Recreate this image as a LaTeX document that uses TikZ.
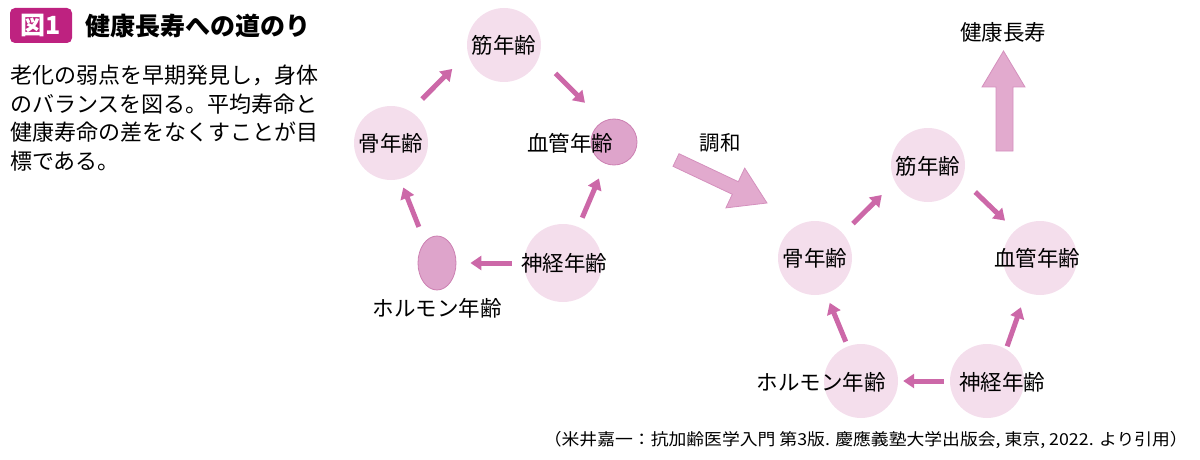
\documentclass[tikz,border=0pt]{standalone}
\usepackage{fontspec}
\setmainfont{Noto Sans CJK JP}
\usetikzlibrary{arrows.meta,shapes.geometric}

\definecolor{circpink}{RGB}{244,222,236}
\definecolor{deeppink}{RGB}{222,164,203}
\definecolor{deepedge}{RGB}{204,128,178}
\definecolor{arrowpink}{RGB}{204,104,168}
\definecolor{bigpink}{RGB}{226,170,206}
\definecolor{bigedge}{RGB}{212,144,189}
\definecolor{figmagenta}{RGB}{190,34,128}

\tikzset{
  agecircle/.style={circle, fill=circpink, minimum size=74pt, inner sep=0pt},
  agedot/.style={circle, fill=deeppink, draw=deepedge, line width=0.8pt, minimum size=46pt, inner sep=0pt},
  agelabel/.style={inner sep=0pt, font=\fontsize{21.5}{24}\selectfont},
  cyclearrow/.style={line width=5pt, arrowpink, -{Triangle[length=11pt,width=14pt]}},
  bigarrow/.style={fill=bigpink, draw=bigedge, line width=0.8pt},
  figtag/.style={fill=figmagenta, rounded corners=5pt, minimum width=62pt, minimum height=35pt,
    inner sep=0pt, text=white, font=\fontsize{25}{28}\bfseries},
  bodytext/.style={inner sep=0pt, font=\fontsize{22}{28}\selectfont},
}

\begin{document}
\begin{tikzpicture}[x=1pt, y=-1pt]

\useasboundingbox (0,0) rectangle (1200,460);

% heading and text
\node[figtag] (tag) at (41,25.5) {図1};
\node[inner sep=0pt, anchor=west, font=\fontsize{25}{28}\bfseries] (title) at (85,26.5) {健康長寿への道のり};

\foreach \t [count=\i] in {老化の弱点を早期発見し，身体, のバランスを図る。平均寿命と,
    健康寿命の差をなくすことが目, 標である。}
    \node[bodytext, anchor=base west] (body\i) at (10,{54.7+28.7*\i}) {\t};

% left cycle
\foreach \n/\x/\y in {musL/504/45, boneL/391/143}
    \node[agecircle] (\n) at (\x,\y) {};
\node[agecircle, minimum size=78pt] (neuL) at (563,263) {};
\node[agedot] (vesL) at (614,142) {};
\node[agedot, ellipse, minimum width=38pt, minimum height=54pt] (horL) at (437,263) {};

\foreach \n/\x/\y/\t in {musLtext/504/45/筋年齢, boneLtext/391/143/骨年齢,
    neuLtext/564/263/神経年齢, vesLtext/570/143/血管年齢, horLtext/437/308/ホルモン年齢}
    \node[agelabel] (\n) at (\x,\y) {\t};

\draw[cyclearrow, shorten <=17pt, shorten >=22pt] (boneL.59) -- (musL.-167);
\draw[cyclearrow, shorten <=23pt, shorten >=26pt] (musL.-19) -- (vesL.117);
\draw[cyclearrow, shorten <=10pt, shorten >=16pt] (neuL.67) -- (vesL.-112);
\draw[cyclearrow, shorten <=12pt, shorten >=14pt] (neuL.west) -- (horL.east);
\draw[cyclearrow, shorten <=16pt, shorten >=9pt] (horL.120) -- (boneL.-76);

% harmony arrow
\filldraw[bigarrow] (679,153.7) -- (738.3,181.7) -- (744.7,168.1) -- (767,203)
    -- (725.9,207.9) -- (732.3,194.3) -- (673,166.3) -- cycle;
\node[agelabel, font=\fontsize{20.5}{24}\selectfont] (harmony) at (720,143) {調和};

% right cycle
\foreach \n/\x/\y in {musR/928/165, boneR/815/258, vesR/1040/258, horR/861/381, neuR/987/381}
    \node[agecircle] (\n) at (\x,\y) {};

\foreach \n/\x/\y/\t in {musRtext/928/166/筋年齢, boneRtext/815/258/骨年齢,
    vesRtext/1037/258/血管年齢, horRtext/821/382/ホルモン年齢, neuRtext/1002/382/神経年齢}
    \node[agelabel] (\n) at (\x,\y) {\t};

\draw[cyclearrow, shorten <=14pt, shorten >=18.5pt] (boneR.41) -- (musR.-153);
\draw[cyclearrow, shorten <=18pt, shorten >=14pt] (musR.-23) -- (vesR.132.5);
\draw[cyclearrow, shorten <=3pt, shorten >=15.6pt] (neuR.59) -- (vesR.-112);
\draw[cyclearrow, shorten <=6pt, shorten >=5pt] (neuR.west) -- (horR.east);
\draw[cyclearrow, shorten <=5pt, shorten >=10pt] (horR.111) -- (boneR.-73);

% longevity arrow
\filldraw[bigarrow] (996,151) -- (996,87) -- (982,87) -- (1003.5,51) -- (1025,87)
    -- (1013,87) -- (1013,151) -- cycle;
\node[agelabel] (longevity) at (1003,32) {健康長寿};

% source
\node[inner sep=0pt, anchor=east, font=\fontsize{16.5}{18}\selectfont] (source) at (1188,440)
    {\scalebox{1.08}[1]{（米井嘉一：抗加齢医学入門 第3版. 慶應義塾大学出版会, 東京, 2022. より引用）}};

\end{tikzpicture}
\end{document}
